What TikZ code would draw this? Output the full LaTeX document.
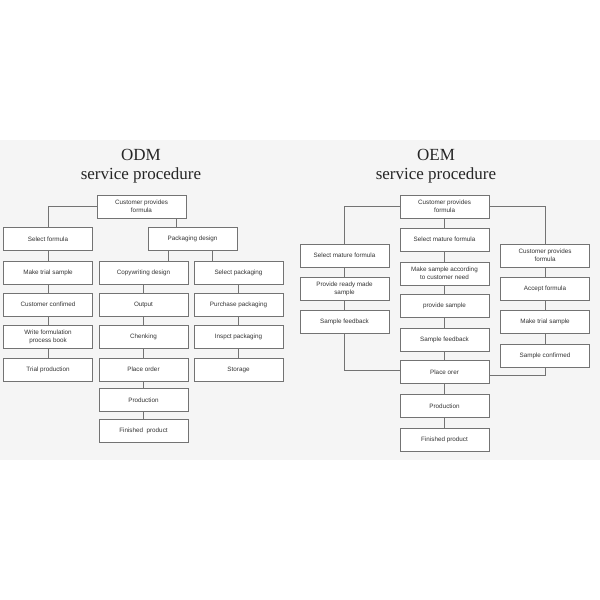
\documentclass[tikz,border=0pt]{standalone}
\usepackage{fontspec}
\setmainfont{Liberation Serif}
\newfontfamily\boxfont{Liberation Sans}
\begin{document}
\begin{tikzpicture}[x=1pt,y=-1pt,
 bx/.style={draw=black!55,fill=white,line width=0.5pt,minimum width=89pt,minimum height=23pt,inner sep=1pt,align=center,font=\boxfont\fontsize{6.3}{8}\selectfont,text=black!80},
 ln/.style={draw=black!55,line width=0.5pt},
 ttl/.style={font=\fontsize{17}{19}\selectfont,align=center,text=black!85}]
\useasboundingbox (0,0) rectangle (600,600);
\fill[black!4] (0,140) rectangle (600,460);
\node[ttl] (t1) at (141,166) {ODM\\service procedure};
\node[ttl] (t2) at (436,166) {OEM\\service procedure};
% ODM
\node[bx] (c) at (141.5,206.5) {Customer provides\\formula};
\node[bx] (sf) at (48,239) {Select formula};
\node[bx] (mt) at (48,272.5) {Make trial sample};
\node[bx] (cc) at (48,304.5) {Customer confimed};
\node[bx] (wf) at (48,336.5) {Write formulation\\process book};
\node[bx] (tp) at (48,369.5) {Trial production};
\node[bx] (pd) at (192.5,239) {Packaging design};
\node[bx] (cd) at (143.5,272.5) {Copywriting design};
\node[bx] (op) at (143.5,304.5) {Output};
\node[bx] (ch) at (143.5,336.5) {Chenking};
\node[bx] (po) at (143.5,369.5) {Place order};
\node[bx] (pr) at (143.5,400) {Production};
\node[bx] (fp) at (143.5,431) {Finished\ \ product};
\node[bx] (sp) at (238.5,272.5) {Select packaging};
\node[bx] (pp) at (238.5,304.5) {Purchase packaging};
\node[bx] (ip) at (238.5,336.5) {Inspct packaging};
\node[bx] (st) at (238.5,369.5) {Storage};
\draw[ln] (c.west) -- (48,206.5) -- (sf.north);
\draw[ln] (176,218) -- (176,227.5);
\draw[ln] (168,250.5) -- (168,261);
\draw[ln] (212,250.5) -- (212,261);
\foreach \a/\b in {sf/mt,mt/cc,cc/wf,wf/tp,cd/op,op/ch,ch/po,po/pr,pr/fp,sp/pp,pp/ip,ip/st}
  \draw[ln] (\a.south) -- (\b.north);
% OEM
\node[bx] (C) at (444.5,206.5) {Customer provides\\formula};
\node[bx] (M1) at (444.5,239.5) {Select mature formula};
\node[bx] (M2) at (444.5,273.5) {Make sample according\\to customer need};
\node[bx] (M3) at (444.5,306) {provide sample};
\node[bx] (M4) at (444.5,339.5) {Sample feedback};
\node[bx] (M5) at (444.5,372) {Place orer};
\node[bx] (M6) at (444.5,406) {Production};
\node[bx] (M7) at (444.5,439.5) {Finished product};
\node[bx] (L1) at (344.5,255.5) {Select mature formula};
\node[bx] (L2) at (344.5,288.5) {Provide ready made\\sample};
\node[bx] (L3) at (344.5,322) {Sample feedback};
\node[bx] (R1) at (545,255.5) {Customer provides\\formula};
\node[bx] (R2) at (545,288.5) {Accept formula};
\node[bx] (R3) at (545,322) {Make trial sample};
\node[bx] (R4) at (545,355.5) {Sample confirmed};
\draw[ln] (C.west) -- (344.5,206.5) -- (L1.north);
\draw[ln] (C.east) -- (545,206.5) -- (R1.north);
\draw[ln] (L3.south) -- (344.5,370) -- (M5.west |- 0,370);
\draw[ln] (R4.south) -- (545,375) -- (M5.east |- 0,375);
\foreach \a/\b in {C/M1,M1/M2,M2/M3,M3/M4,M4/M5,M5/M6,M6/M7,L1/L2,L2/L3,R1/R2,R2/R3,R3/R4}
  \draw[ln] (\a.south) -- (\b.north);
\end{tikzpicture}
\end{document}
